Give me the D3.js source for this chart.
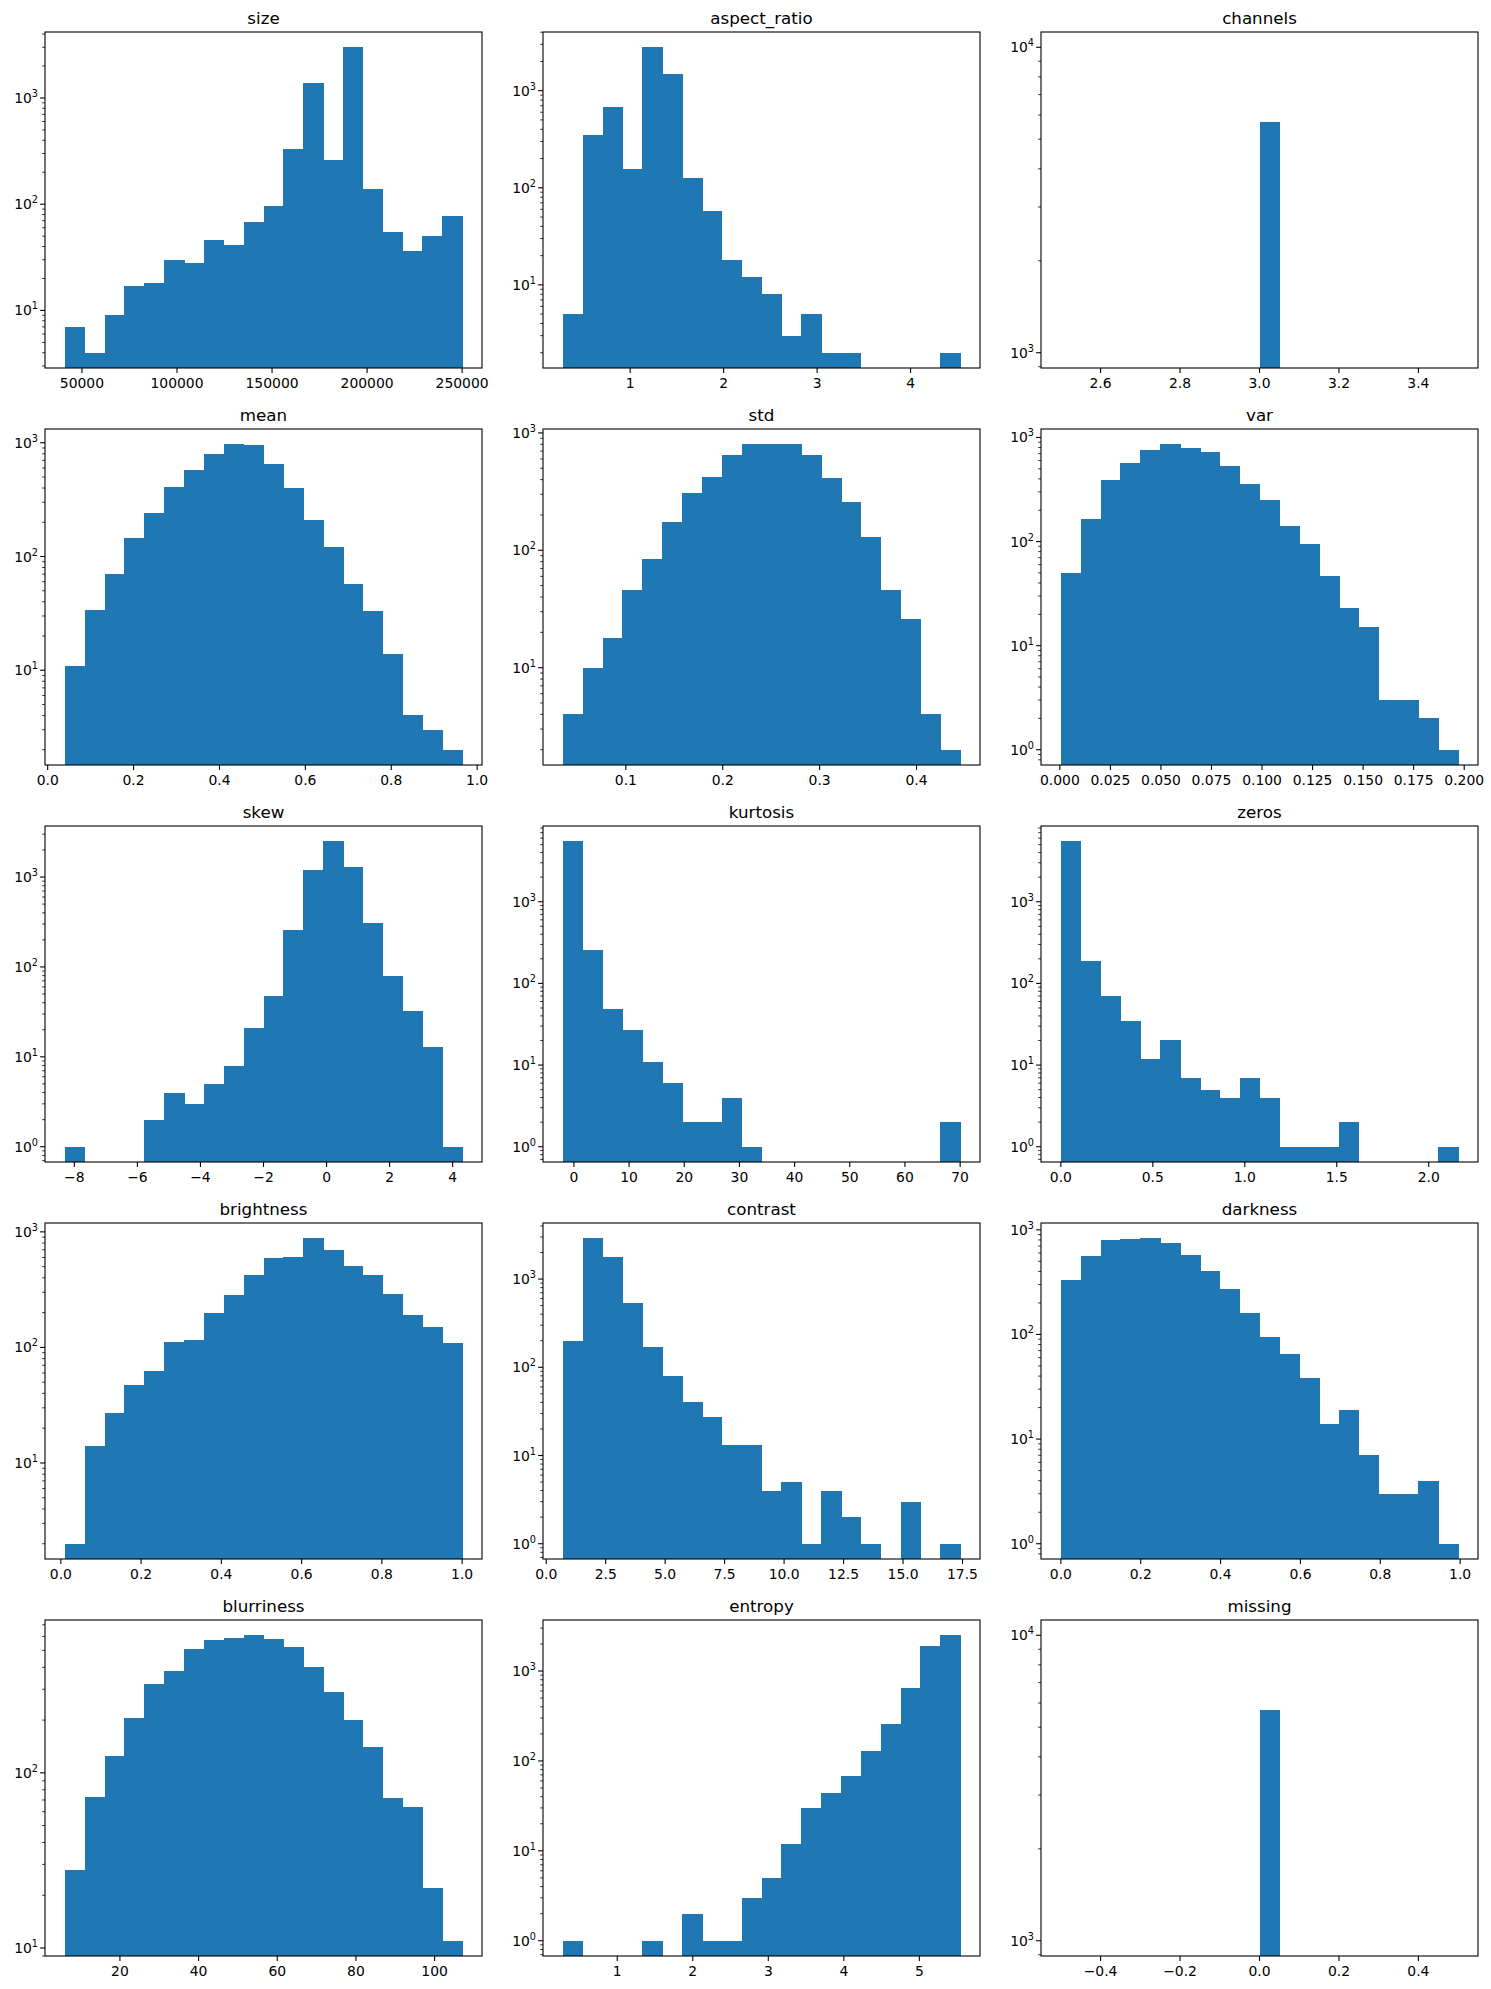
<!DOCTYPE html>
<html>
<head>
<meta charset="utf-8">
<script src="https://cdn.jsdelivr.net/npm/d3@7"></script>
<style>
  body { margin: 0; background: #fff; }
  text { font-family: "DejaVu Sans", sans-serif; fill: #000; }
</style>
</head>
<body>
<svg id="chart" width="1491" height="1989"></svg>
<script>
// panel titles, in grid order
var names = ["size", "aspect_ratio", "channels", "mean", "std", "var",
  "skew", "kurtosis", "zeros", "brightness", "contrast", "darkness",
  "blurriness", "entropy", "missing"];

// [first bin edge, last bin edge] for each histogram (20 bins)
var binRange = [
  [41000, 250000], [0.28, 4.53], [2.5, 3.5], [0.04, 0.965], [0.035, 0.445],
  [0.0005, 0.197], [-8.3, 4.3], [-2, 70], [0, 2.16], [0.01, 1.0],
  [0.7, 17.4], [0, 0.995], [6, 107], [0.28, 5.54], [-0.5, 0.5]
];

// counts per bin
var counts = [
  [7, 4, 9, 17, 18, 30, 28, 46, 41, 68, 97, 330, 1380, 260, 3000, 140, 55, 36, 50, 78],
  [5, 350, 680, 155, 2800, 1480, 125, 57, 18, 12, 8, 3, 5, 2, 2, 0, 0, 0, 0, 2],
  [0, 0, 0, 0, 0, 0, 0, 0, 0, 0, 5700, 0, 0, 0, 0, 0, 0, 0, 0, 0],
  [11, 34, 70, 145, 240, 410, 580, 800, 970, 950, 650, 400, 210, 120, 57, 33, 14, 4, 3, 2],
  [4, 10, 18, 46, 85, 175, 310, 420, 650, 800, 800, 800, 650, 410, 260, 130, 46, 26, 4, 2],
  [50, 165, 390, 570, 760, 860, 790, 730, 530, 360, 250, 140, 95, 47, 23, 15, 3, 3, 2, 1],
  [1, 0, 0, 0, 2, 4, 3, 5, 8, 21, 48, 260, 1200, 2500, 1300, 310, 80, 32, 13, 1],
  [5500, 260, 48, 27, 11, 6, 2, 2, 4, 1, 0, 0, 0, 0, 0, 0, 0, 0, 0, 2],
  [5500, 190, 70, 35, 12, 20, 7, 5, 4, 7, 4, 1, 1, 1, 2, 0, 0, 0, 0, 1],
  [2, 14, 27, 47, 62, 112, 117, 200, 285, 420, 590, 610, 880, 700, 510, 420, 290, 190, 150, 110],
  [200, 2900, 1800, 530, 170, 80, 40, 27, 13, 13, 4, 5, 1, 4, 2, 1, 0, 3, 0, 1],
  [330, 560, 800, 810, 830, 750, 570, 400, 270, 160, 95, 65, 38, 14, 19, 7, 3, 3, 4, 1],
  [28, 73, 125, 205, 320, 380, 510, 570, 590, 610, 580, 520, 400, 290, 200, 140, 72, 64, 22, 11],
  [1, 0, 0, 0, 1, 0, 2, 1, 1, 3, 5, 12, 30, 44, 68, 130, 260, 650, 1900, 2500],
  [0, 0, 0, 0, 0, 0, 0, 0, 0, 0, 5700, 0, 0, 0, 0, 0, 0, 0, 0, 0]
];

// x tick values and their label format
var xTicks = [
  [50000, 100000, 150000, 200000, 250000], [1, 2, 3, 4], [2.6, 2.8, 3.0, 3.2, 3.4],
  [0, 0.2, 0.4, 0.6, 0.8, 1.0], [0.1, 0.2, 0.3, 0.4],
  [0, 0.025, 0.05, 0.075, 0.1, 0.125, 0.15, 0.175, 0.2],
  [-8, -6, -4, -2, 0, 2, 4], [0, 10, 20, 30, 40, 50, 60, 70], [0, 0.5, 1.0, 1.5, 2.0],
  [0, 0.2, 0.4, 0.6, 0.8, 1.0], [0, 2.5, 5, 7.5, 10, 12.5, 15, 17.5],
  [0, 0.2, 0.4, 0.6, 0.8, 1.0], [20, 40, 60, 80, 100], [1, 2, 3, 4, 5],
  [-0.4, -0.2, 0, 0.2, 0.4]
];
var xFormat = ["d", "d", ".1f", ".1f", ".1f", ".3f", "d", "d", ".1f", ".1f", ".1f", ".1f", "d", "d", ".1f"];

var colLeft = [45, 543, 1041],
    plotW = 437,
    rowTop = 32,
    rowStep = 397,
    plotH = 336;

var svg = d3.select("#chart");

names.forEach(function(name, i) {
  var col = i % 3, row = Math.floor(i / 3);
  var g = svg.append("g")
    .attr("transform", "translate(" + colLeft[col] + "," + (rowTop + row * rowStep) + ")");

  var lo = binRange[i][0], hi = binRange[i][1], n = counts[i].length;
  var w = (hi - lo) / n;
  var pad = (hi - lo) * 0.05;
  var x = d3.scaleLinear().domain([lo - pad, hi + pad]).range([0, plotW]);

  // matplotlib-like log autoscale with 5% margin
  var pos = counts[i].filter(function(c) { return c > 0; });
  var lmin = Math.log10(d3.min(pos)), lmax = Math.log10(d3.max(pos));
  if (lmin === lmax) { lmin = Math.floor(lmin); lmax = Math.ceil(lmax); }
  var lp = (lmax - lmin) * 0.05;
  var y = d3.scaleLog().domain([Math.pow(10, lmin - lp), Math.pow(10, lmax + lp)]).range([plotH, 0]);

  g.append("defs").append("clipPath").attr("id", "clip" + i)
    .append("rect").attr("width", plotW).attr("height", plotH);

  var bins = counts[i].map(function(c, k) { return { c: c, x0: lo + k * w, x1: lo + (k + 1) * w }; })
    .filter(function(b) { return b.c > 0; });

  g.append("g").attr("clip-path", "url(#clip" + i + ")")
    .selectAll("rect").data(bins).join("rect")
    .attr("x", function(b) { return x(b.x0); })
    .attr("width", function(b) { return x(b.x1) - x(b.x0) + 0.6; })
    .attr("y", function(b) { return y(b.c); })
    .attr("height", function(b) { return plotH - y(b.c) + 2; })
    .attr("fill", "#1f77b4")
    .attr("shape-rendering", "crispEdges");

  // x axis
  var fmt = d3.format(xFormat[i]);
  var xa = g.append("g").attr("transform", "translate(0," + plotH + ")");
  xTicks[i].forEach(function(t) {
    xa.append("line").attr("x1", x(t)).attr("x2", x(t)).attr("y1", 0).attr("y2", 4.9)
      .attr("stroke", "#000").attr("stroke-width", 1.1);
    xa.append("text").attr("x", x(t)).attr("y", 20).attr("text-anchor", "middle")
      .style("font-size", "13.9px").text(fmt(t).replace("-", "\u2212"));
  });

  // y axis: decades labelled, minor ticks unlabelled
  var ya = g.append("g");
  var d0 = y.domain()[0], d1 = y.domain()[1];
  for (var e = Math.floor(Math.log10(d0)); e <= Math.ceil(Math.log10(d1)); e++) {
    for (var m = 1; m < 10; m++) {
      var v = m * Math.pow(10, e);
      if (v < d0 || v > d1) continue;
      var major = m === 1;
      ya.append("line").attr("x1", 0).attr("x2", major ? -4.9 : -2.8)
        .attr("y1", y(v)).attr("y2", y(v)).attr("stroke", "#000")
        .attr("stroke-width", major ? 1.1 : 0.8);
      if (major) {
        var t = ya.append("text").attr("x", -7).attr("y", y(v) + 5)
          .attr("text-anchor", "end").style("font-size", "13.9px");
        t.append("tspan").text("10");
        t.append("tspan").attr("dy", -6).style("font-size", "9.7px").text(e);
      }
    }
  }

  g.append("rect").attr("width", plotW).attr("height", plotH)
    .attr("fill", "none").attr("stroke", "#000").attr("stroke-width", 1.1);

  g.append("text").attr("x", plotW / 2).attr("y", -8).attr("text-anchor", "middle")
    .style("font-size", "16.7px").text(name);
});
</script>
</body>
</html>
